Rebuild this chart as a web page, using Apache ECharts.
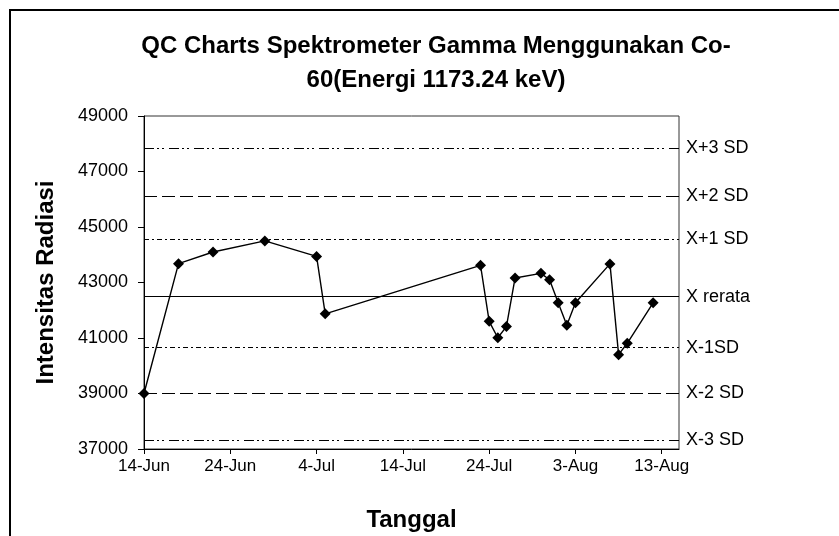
<!DOCTYPE html>
<html>
<head>
<meta charset="UTF-8">
<title>QC Charts Spektrometer Gamma</title>
<script src="https://cdn.jsdelivr.net/npm/echarts@6/dist/echarts.min.js"></script>
<style>
  html, body { margin: 0; padding: 0; background: #fff; }
  #chart { width: 839px; height: 536px; }
</style>
</head>
<body>
<div id="chart"></div>
<script>
  // ===== data =====
  const tanggal = ['06-14', '06-18', '06-22', '06-28', '07-04', '07-05',
    '07-23', '07-24', '07-25', '07-26', '07-27', '07-30', '07-31',
    '08-01', '08-02', '08-03', '08-07', '08-08', '08-09', '08-12'];
  const intensitas = [39000, 43680, 44100, 44500, 43940, 41870,
    43620, 41600, 41010, 41410, 43160, 43330, 43100,
    42270, 41460, 42270, 43670, 40400, 40810, 42270];

  // control lines (mean and +/- SD)
  const garisNama = ['X+3 SD', 'X+2 SD', 'X+1 SD', 'X rerata', 'X-1SD', 'X-2 SD', 'X-3 SD'];
  const garisNilai = [47850, 46120, 44550, 42490, 40650, 39000, 37310];

  // axis ticks
  const xTickLabels = ['14-Jun', '24-Jun', '4-Jul', '14-Jul', '24-Jul', '3-Aug', '13-Aug'];
  const yTicks = [37000, 39000, 41000, 43000, 45000, 47000, 49000];

  // ===== styles =====
  const garisGaya = [
    [10, 3, 2, 3, 2, 5],   // dash-dot-dot
    [13, 5],               // long dash
    [5, 3, 2, 3],          // dash-dot
    'solid',
    [5, 3, 2, 3],
    [13, 5],
    [10, 3, 2, 3, 2, 5]
  ];
  const FONT = 'Liberation Sans, Arial, sans-serif';

  // days since 14 June
  function hari(t) {
    const [m, d] = t.split('-').map(Number);
    return (Date.UTC(2009, m - 1, d) - Date.UTC(2009, 5, 14)) / 86400000;
  }
  const xTickValues = xTickLabels.map((_, i) => i * 10);

  let chart = echarts.init(document.getElementById('chart'), null, {renderer: 'canvas'});

  let option = {
    animation: false,
    backgroundColor: '#fff',
    textStyle: {fontFamily: FONT},
    title: {
      text: 'QC Charts Spektrometer Gamma Menggunakan Co-\n60(Energi 1173.24 keV)',
      left: 431,
      top: 24,
      textAlign: 'center',
      textStyle: {fontFamily: FONT, fontSize: 24, fontWeight: 'bold', color: '#000', lineHeight: 34}
    },
    graphic: [{
      type: 'rect',
      shape: {x: 10, y: 10, width: 900, height: 600},
      style: {fill: 'none', stroke: '#000', lineWidth: 2},
      silent: true
    }],
    grid: {
      left: 144, right: 160, top: 116, bottom: 87,
      show: true, borderColor: '#333', borderWidth: 1,
      containLabel: false, outerBoundsMode: 'none'
    },
    xAxis: {
      type: 'value',
      min: 0, max: 62,
      name: 'Tanggal',
      nameLocation: 'middle',
      nameGap: 59,
      nameTextStyle: {fontFamily: FONT, fontSize: 24, fontWeight: 'bold', color: '#000'},
      axisLine: {show: true, onZero: false, lineStyle: {color: '#000', width: 1}},
      axisTick: {show: true, length: 5, customValues: xTickValues, lineStyle: {color: '#000'}},
      axisLabel: {
        customValues: xTickValues,
        margin: 9,
        fontFamily: FONT, fontSize: 17, color: '#000',
        formatter: v => xTickLabels[Math.round(v / 10)] || ''
      },
      splitLine: {show: false}
    },
    yAxis: {
      type: 'value',
      min: 37000, max: 49000,
      name: 'Intensitas Radiasi',
      nameLocation: 'middle',
      nameGap: 86,
      nameTextStyle: {fontFamily: FONT, fontSize: 24, fontWeight: 'bold', color: '#000'},
      axisLine: {show: true, onZero: false, lineStyle: {color: '#000', width: 1}},
      axisTick: {show: true, length: 6, customValues: yTicks, lineStyle: {color: '#000'}},
      axisLabel: {
        customValues: yTicks,
        margin: 16,
        fontFamily: FONT, fontSize: 18, color: '#000',
        formatter: v => String(v)
      },
      splitLine: {show: false}
    },
    series: [{
      type: 'line',
      data: tanggal.map((t, i) => [hari(t), intensitas[i]]),
      symbol: 'diamond',
      symbolSize: [11, 11],
      itemStyle: {color: '#000'},
      lineStyle: {color: '#000', width: 1.4},
      z: 5,
      markLine: {
        silent: true,
        symbol: ['none', 'none'],
        animation: false,
        data: garisNilai.map((v, i) => ({
          yAxis: v,
          lineStyle: {type: garisGaya[i], color: '#000', width: 1.2},
          label: {formatter: garisNama[i]}
        })),
        label: {
          show: true, position: 'end', distance: 7,
          fontFamily: FONT, fontSize: 18, color: '#000'
        }
      }
    }]
  };

  chart.setOption(option);
</script>
</body>
</html>
